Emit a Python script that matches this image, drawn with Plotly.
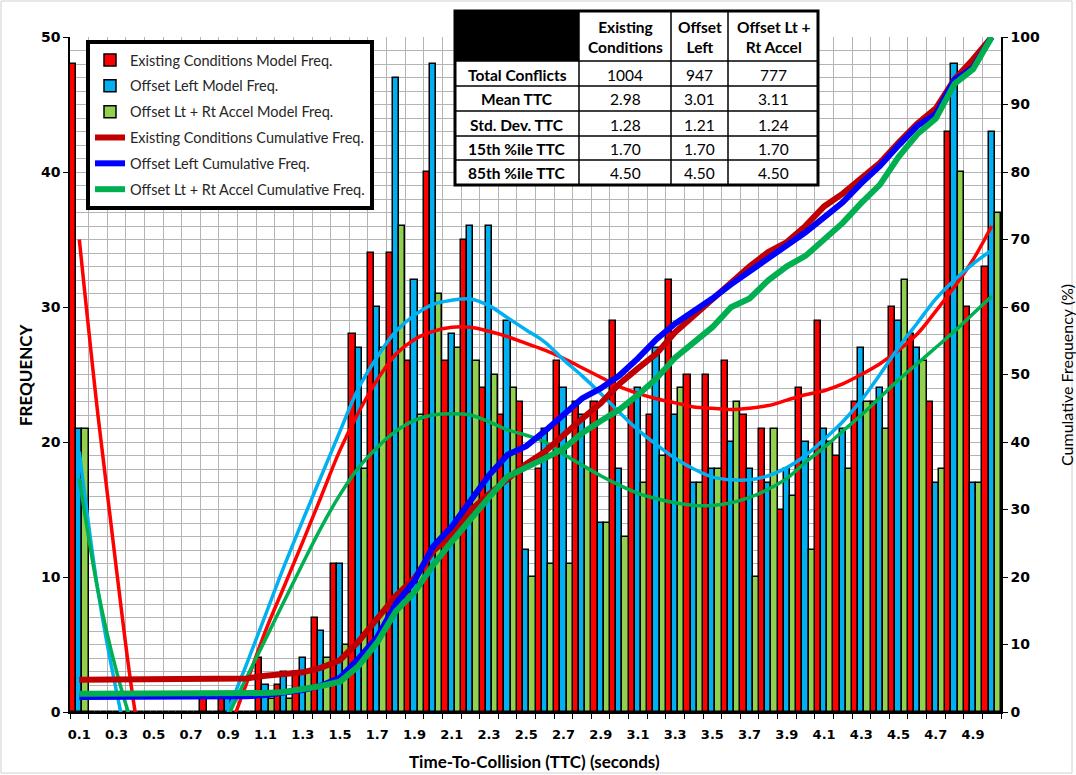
import plotly.graph_objects as go

# TTC categories (seconds)
ttc = [0.1, 0.2, 0.3, 0.4, 0.5, 0.6, 0.7, 0.8, 0.9, 1.0,
       1.1, 1.2, 1.3, 1.4, 1.5, 1.6, 1.7, 1.8, 1.9, 2.0,
       2.1, 2.2, 2.3, 2.4, 2.5, 2.6, 2.7, 2.8, 2.9, 3.0,
       3.1, 3.2, 3.3, 3.4, 3.5, 3.6, 3.7, 3.8, 3.9, 4.0,
       4.1, 4.2, 4.3, 4.4, 4.5, 4.6, 4.7, 4.8, 4.9, 5.0]
tick_labels = ["0.1", "0.3", "0.5", "0.7", "0.9", "1.1", "1.3", "1.5", "1.7", "1.9",
               "2.1", "2.3", "2.5", "2.7", "2.9", "3.1", "3.3", "3.5", "3.7", "3.9",
               "4.1", "4.3", "4.5", "4.7", "4.9"]

# model frequencies
existing_freq = [48, 0, 0, 0, 0, 0, 0, 1, 1, 0,
                 4, 2, 3, 7, 11, 28, 34, 34, 26, 40,
                 26, 35, 24, 22, 23, 18, 26, 23, 23, 29,
                 23, 22, 32, 25, 25, 26, 22, 21, 15, 24,
                 29, 19, 23, 23, 30, 28, 23, 43, 30, 33]
offset_freq = [21, 0, 0, 0, 0, 0, 0, 0, 1, 0,
               2, 3, 4, 6, 11, 27, 30, 47, 32, 48,
               28, 36, 36, 29, 12, 21, 24, 22, 14, 18,
               24, 27, 22, 17, 18, 20, 18, 17, 18, 20,
               21, 21, 27, 24, 29, 27, 17, 48, 17, 43]
accel_freq = [21, 0, 0, 0, 0, 0, 0, 0, 0, 0,
              1, 1, 3, 4, 5, 18, 27, 36, 22, 31,
              27, 26, 25, 24, 10, 11, 11, 18, 14, 13,
              17, 19, 24, 17, 18, 23, 10, 21, 16, 12,
              20, 18, 23, 21, 32, 26, 18, 40, 17, 37]

# cumulative frequency (%)
existing_cum = [4.78, 4.78, 4.78, 4.78, 4.78, 4.78, 4.78, 4.88, 4.98, 4.98,
                5.38, 5.58, 5.88, 6.57, 7.67, 10.46, 13.84, 17.23, 19.82, 23.80,
                26.39, 29.88, 32.27, 34.46, 36.75, 38.55, 41.14, 43.43, 45.72, 48.61,
                50.90, 53.09, 56.27, 58.76, 61.25, 63.84, 66.04, 68.13, 69.62, 72.01,
                74.90, 76.79, 79.08, 81.37, 84.36, 87.15, 89.44, 93.73, 96.71, 100.0]
offset_cum = [2.22, 2.22, 2.22, 2.22, 2.22, 2.22, 2.22, 2.22, 2.32, 2.32,
              2.53, 2.85, 3.27, 3.91, 5.07, 7.92, 11.09, 16.05, 19.43, 24.50,
              27.46, 31.26, 35.06, 38.12, 39.39, 41.61, 44.14, 46.46, 47.94, 49.84,
              52.38, 55.23, 57.55, 59.35, 61.25, 63.36, 65.26, 67.05, 68.95, 71.07,
              73.28, 75.50, 78.35, 80.89, 83.95, 86.80, 88.60, 93.66, 95.46, 100.0]
accel_cum = [2.70, 2.70, 2.70, 2.70, 2.70, 2.70, 2.70, 2.70, 2.70, 2.70,
             2.83, 2.96, 3.35, 3.86, 4.50, 6.82, 10.30, 14.93, 17.76, 21.75,
             25.23, 28.57, 31.79, 34.88, 36.16, 37.58, 39.00, 41.31, 43.11, 44.79,
             46.98, 49.42, 52.51, 54.70, 57.01, 59.97, 61.26, 63.96, 66.02, 67.57,
             70.14, 72.46, 75.42, 78.12, 82.24, 85.59, 87.90, 93.05, 95.24, 100.0]

# trend curves (frequency axis)
existing_trend = [35.0, 22.0, 10.5, 0.0, -7.0, -9.5, -9.5, -7.0, -1.7, 2.2,
                  6.0, 9.3, 12.6, 16.0, 19.4, 22.2, 24.6, 26.5, 27.6, 28.2,
                  28.5, 28.5, 28.2, 27.8, 27.3, 26.8, 26.2, 25.5, 24.8, 24.1,
                  23.6, 23.2, 22.9, 22.6, 22.5, 22.4, 22.5, 22.7, 23.1, 23.5,
                  23.8, 24.3, 25.0, 25.8, 26.8, 28.0, 29.7, 31.5, 33.5, 36.0]
offset_trend = [19.3, 9.0, 1.5, -4.5, -8.0, -9.0, -8.0, -5.0, 0.0, 3.6,
                7.2, 10.8, 14.2, 17.5, 20.8, 24.0, 26.3, 28.2, 29.4, 30.2,
                30.5, 30.6, 30.1, 29.2, 28.3, 27.4, 26.1, 24.9, 23.6, 22.2,
                20.9, 19.8, 18.8, 18.0, 17.4, 17.2, 17.2, 17.5, 18.1, 19.0,
                20.2, 21.5, 23.1, 25.0, 27.0, 28.8, 30.6, 32.0, 33.2, 34.2]
accel_trend = [17.3, 9.0, 3.0, -1.5, -4.5, -6.0, -5.5, -4.0, -0.3, 2.6,
               5.4, 8.2, 11.0, 13.7, 16.1, 18.1, 19.6, 20.8, 21.6, 22.0,
               22.1, 22.0, 21.5, 20.9, 20.5, 20.0, 19.1, 18.3, 17.5, 16.8,
               16.2, 15.8, 15.5, 15.3, 15.3, 15.5, 15.9, 16.5, 17.3, 18.5,
               19.6, 20.8, 22.0, 23.3, 24.6, 25.8, 27.0, 28.2, 29.5, 30.8]

# summary table
table_rows = ["Total Conflicts", "Mean TTC", "Std. Dev. TTC", "15th %ile TTC", "85th %ile TTC"]
table_heads = ["Existing<br>Conditions", "Offset<br>Left", "Offset Lt +<br>Rt Accel"]
existing_stats = ["1004", "2.98", "1.28", "1.70", "4.50"]
offset_stats = ["947", "3.01", "1.21", "1.70", "4.50"]
accel_stats = ["777", "3.11", "1.24", "1.70", "4.50"]

GRID = "#B4B4B4"
TXT = "Lato"
NUM = "DejaVu Sans"

fig = go.Figure()

bar_specs = [("Existing Conditions Model Freq.", existing_freq, "#FF0000"),
             ("Offset Left Model Freq.", offset_freq, "#00B0F0"),
             ("Offset Lt + Rt Accel Model Freq.", accel_freq, "#92D050")]
for i, (name, vals, col) in enumerate(bar_specs):
    fig.add_trace(go.Bar(x=ttc, y=vals, name=name, legendgroup="g%d" % i,
                         marker=dict(color=col, line=dict(color="black", width=1.5))))

for vals, col in [(existing_trend, "#FF0000"), (offset_trend, "#00B0F0"), (accel_trend, "#00B050")]:
    fig.add_trace(go.Scatter(x=ttc, y=vals, mode="lines", showlegend=False, hoverinfo="skip",
                             line=dict(color=col, width=3.5, shape="spline")))

cum_specs = [("Existing Conditions Cumulative Freq.", existing_cum, "#C00000"),
             ("Offset Left Cumulative Freq.", offset_cum, "#0000FF"),
             ("Offset Lt + Rt Accel Cumulative Freq.", accel_cum, "#00B050")]
for i, (name, vals, col) in enumerate(cum_specs):
    fig.add_trace(go.Scatter(x=ttc, y=vals, name=name, yaxis="y2", mode="lines",
                             legendgroup="c%d" % i, line=dict(color=col, width=6)))

# pixel -> paper helpers (plot area 70..1001 x 37..712)
def px(x):
    return (x - 70) / 931.0

def py(y):
    return (712 - y) / 675.0

shapes = []
annos = []

def label(x, y, text, size=15, angle=0, bold=False):
    annos.append(dict(xref="paper", yref="paper", x=px(x), y=py(y), xanchor="center",
                      yanchor="middle", text="<b>%s</b>" % text if bold else text,
                      showarrow=False, textangle=angle,
                      font=dict(family=TXT, size=size, color="black")))

# table
cx = [455, 579, 671, 728, 818]
ry = [11, 61, 86, 111, 136, 160, 185]
shapes.append(dict(type="rect", xref="paper", yref="paper", x0=px(cx[0]), x1=px(cx[-1]),
                   y0=py(ry[-1]), y1=py(ry[0]), fillcolor="white", line=dict(width=0), layer="above"))
shapes.append(dict(type="rect", xref="paper", yref="paper", x0=px(cx[0]), x1=px(cx[1]),
                   y0=py(ry[1]), y1=py(ry[0]), fillcolor="black", line=dict(width=0), layer="above"))
for x in cx[1:-1]:
    shapes.append(dict(type="line", xref="paper", yref="paper", x0=px(x), x1=px(x),
                       y0=py(ry[-1]), y1=py(ry[0]), line=dict(color="black", width=1.5), layer="above"))
for y in ry[1:-1]:
    shapes.append(dict(type="line", xref="paper", yref="paper", x0=px(cx[0]), x1=px(cx[-1]),
                       y0=py(y), y1=py(y), line=dict(color="black", width=1.5), layer="above"))
shapes.append(dict(type="rect", xref="paper", yref="paper", x0=px(cx[0]), x1=px(cx[-1]),
                   y0=py(ry[-1]), y1=py(ry[0]), line=dict(color="black", width=3), layer="above"))

for j, h in enumerate(table_heads):
    label((cx[j + 1] + cx[j + 2]) / 2, (ry[0] + ry[1]) / 2 + 1, h, size=15.5, bold=True)
cols = [existing_stats, offset_stats, accel_stats]
for r, lab in enumerate(table_rows):
    yc = (ry[r + 1] + ry[r + 2]) / 2 + 1
    label((cx[0] + cx[1]) / 2, yc, lab, size=15.5, bold=True)
    for j, colv in enumerate(cols):
        label((cx[j + 1] + cx[j + 2]) / 2, yc, colv[r], size=15.5)

# axis titles
label(25, 375, "FREQUENCY", size=17, angle=-90, bold=True)
label(1066, 375, "Cumulative Frequency (%)", size=16, angle=-90)
label(534, 762, "Time-To-Collision (TTC) (seconds)", size=17, bold=True)

# chart border
shapes.append(dict(type="rect", xref="paper", yref="paper", x0=px(1), x1=px(1072),
                   y0=py(773), y1=py(1), line=dict(color="#D0D0D0", width=1), layer="below"))

fig.update_layout(
    width=1076, height=775,
    margin=dict(l=70, r=75, t=37, b=63),
    plot_bgcolor="white", paper_bgcolor="white",
    barmode="group", bargap=0, bargroupgap=0,
    shapes=shapes, annotations=annos,
    legend=dict(x=px(86), y=py(40), xanchor="left", yanchor="top", bgcolor="white",
                bordercolor="black", borderwidth=4, tracegroupgap=4, itemwidth=30,
                font=dict(family=TXT, size=14.5, color="#262626")),
    xaxis=dict(range=[0.05, 5.05], tickmode="array", tickvals=[float(t) for t in tick_labels],
               ticktext=tick_labels, showgrid=False, ticks="", zeroline=False,
               ticklabelstandoff=10,
               showline=True, linecolor="black", linewidth=1.5,
               tickfont=dict(family=NUM, size=13, color="black", weight="bold"),
               minor=dict(tickmode="linear", tick0=0.05, dtick=0.1, showgrid=True,
                          gridcolor=GRID, gridwidth=1, ticks="outside", ticklen=5,
                          tickcolor="black")),
    yaxis=dict(range=[0, 50], tick0=0, dtick=10, showgrid=True, gridcolor=GRID, gridwidth=1,
               ticks="outside", ticklen=5, tickcolor="black", zeroline=False,
               showline=True, linecolor="black", linewidth=1.5,
               tickfont=dict(family=NUM, size=14, color="black", weight="bold"),
               minor=dict(tick0=0, dtick=1, showgrid=True, gridcolor=GRID, gridwidth=1)),
    yaxis2=dict(range=[0, 100], tick0=0, dtick=10, overlaying="y", side="right",
                showgrid=False, zeroline=False, ticks="outside", ticklen=5, tickcolor="black",
                showline=True, linecolor="black", linewidth=1.5,
                tickfont=dict(family=NUM, size=14, color="black", weight="bold")),
)

fig.write_html("out.html", config={"displayModeBar": False},
               post_script="document.body.style.margin='0px';")
